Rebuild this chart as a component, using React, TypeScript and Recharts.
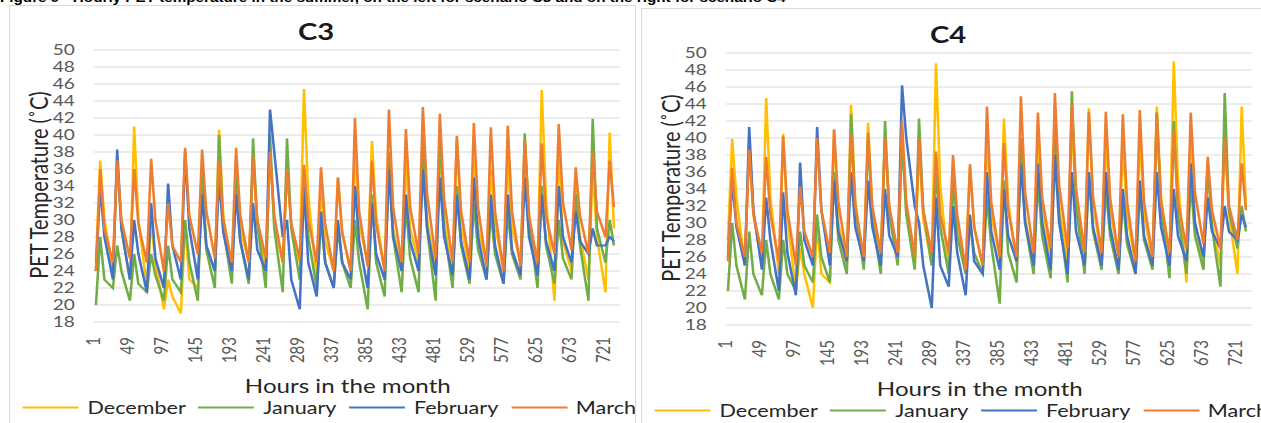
import React from 'react';
import { LineChart, Line, XAxis, YAxis, CartesianGrid } from 'recharts';

// Hourly PET temperature, one month of hours per series.
// Each series is stored as three readings per day: night low, daily peak, after-peak.
const HOURS_IN_MONTH = 744;
const SAMPLE_HOURS = [3, 9, 15];

const seriesNames = ['December', 'January', 'February', 'March'];
const seriesColors = ['#FFC000', '#70AD47', '#4472C4', '#ED7D31'];
const yTicks = [18, 20, 22, 24, 26, 28, 30, 32, 34, 36, 38, 40, 42, 44, 46, 48, 50];

// ---- scenario C3 ----
const c3December = [
  25, 37, 30, 24, 37, 29, 23, 41, 30, 22, 30, 25, 19.5, 23, 21, 19, 29.5, 23, 22, 35, 27, 24, 40.6, 30.5,
  24, 36, 29, 25, 37, 30, 24, 38, 29.5, 25, 36, 29.5, 25, 45.4, 33, 23, 34, 27.5, 24, 35, 28.5, 24, 38, 29.5,
  25, 39.3, 30.5, 24, 36, 29, 24, 37, 29, 25, 38, 30, 24, 39, 30, 23, 39.5, 29.5, 24, 37, 29, 25, 36, 29.5,
  24, 37, 29, 25, 39, 30.5, 24, 45.3, 32.5, 20.5, 38, 27.5, 24, 34, 28, 23, 36, 28, 21.5, 40.3, 29,
];
const c3January = [
  20, 28, 23, 22, 27, 24, 20.5, 26, 22.5, 21.5, 26, 23.5, 20.5, 27, 23, 21.5, 30, 25, 20.5, 36, 26.5, 22, 40, 29,
  22.5, 35, 27.5, 22.5, 39.6, 29.5, 22, 40, 29, 21.5, 39.6, 29, 23, 36, 28, 22, 30, 25, 22, 29, 25, 22, 30, 25,
  19.5, 33, 25, 21, 38, 28, 21.5, 32, 25.5, 21.5, 40, 29, 20.5, 41, 29, 22, 34, 27, 22.5, 32, 26.5, 23, 31, 26,
  22.5, 31, 26, 23, 40.2, 30, 22, 34, 27, 22.5, 30, 25.5, 23, 33, 27, 20.5, 41.9, 29, 25, 30, 27,
];
const c3February = [
  24, 34, 28, 23, 38.3, 29, 23, 30, 26, 21.5, 32, 25.5, 22, 34.3, 27, 23, 38, 29, 23, 33, 27, 24, 35, 28.5,
  24, 33, 27.5, 23, 32, 26.5, 24, 43, 38, 28, 30, 23, 19.5, 34, 25, 21, 31, 25, 22, 30, 25, 23, 34, 27.5,
  22, 32, 26, 23, 36, 28, 24, 33, 27.5, 24, 36, 29, 23.5, 35, 28, 23.5, 33, 27.5, 23, 35, 28, 23, 33, 27,
  22.5, 33, 26.5, 23.5, 35, 28, 23.5, 33, 27.5, 24, 34, 28, 25, 31, 27.5, 26, 29, 27, 27, 28, 27.5,
];
const c3March = [
  24, 36, 29, 25, 37, 30, 25.5, 36, 29.5, 25, 37.2, 30, 24, 32, 27, 25, 38.5, 30.5, 26, 38.3, 31, 25.5, 37, 30,
  25, 38.5, 30.5, 25, 37.5, 30, 25.5, 38, 30.5, 25, 36, 29.5, 25.5, 36.5, 30, 25, 36.2, 29.5, 24, 35, 28.5, 24, 42, 31,
  24.5, 37, 29.5, 24, 43, 31.5, 25, 40.7, 31.5, 26, 43.3, 33, 25.5, 42.5, 32.5, 25, 39.9, 31, 25, 41.4, 31.5, 24.5, 40.9, 31,
  24, 41.1, 31, 24.5, 39.5, 30.5, 25, 39, 30.5, 26, 41.3, 32, 26.5, 36.2, 30.5, 26, 38, 31, 28, 37, 31.5,
];

// ---- scenario C4 ----
const c4December = [
  28, 39.9, 33, 25, 40, 31, 25, 44.7, 33, 24, 40.5, 30.5, 22, 27, 24, 20, 30, 24, 23, 41, 30, 25, 43.9, 32.5,
  25, 41.8, 31.5, 26, 40, 31.5, 25.5, 41, 31.5, 25, 39, 30.5, 25, 48.8, 34.5, 24, 36, 29, 25, 36.5, 29.5, 25, 40, 31,
  26, 42.3, 32.5, 25, 39, 30.5, 25.5, 40, 31.5, 26, 41, 32, 25.5, 42, 32, 25, 43.5, 32.5, 25.5, 40, 31.5, 26, 39, 31,
  25, 40, 31, 25.5, 43.7, 33, 26, 49, 35, 23, 41, 30, 25, 37, 30, 25, 40, 31, 24, 43.7, 32,
];
const c4January = [
  22, 30, 25, 21, 29, 24, 21.5, 28, 24, 21, 28, 24, 22, 29, 25, 23, 31, 26, 23, 36, 28, 24, 42.8, 31.5,
  24.5, 40, 30.5, 24, 42, 31, 25, 40, 31, 24.5, 42.3, 31.5, 25, 36, 29.5, 24, 35, 28.5, 24, 30, 26.5, 24, 33, 27.5,
  20.5, 35, 26.5, 23, 40, 30, 24, 35, 28.5, 23.5, 42, 31, 23, 45.5, 32, 24, 36, 29, 24.5, 34, 28.5, 24, 33, 27.5,
  24, 34, 28, 24.5, 43, 32, 23.5, 42, 31, 24, 35, 28.5, 24.5, 37, 29.5, 22.5, 45.3, 31.5, 27, 32, 29,
];
const c4February = [
  26, 35, 29.5, 25, 41.3, 31.5, 24.5, 33, 28, 22, 33.6, 26.5, 21.5, 37.1, 28, 25, 41.3, 31.5, 25, 35, 29, 25.5, 36, 29.5,
  25.5, 35, 29.5, 25, 34, 28.5, 26, 46.2, 40, 32, 30, 25, 20, 33, 25, 22.5, 32, 26.5, 21.5, 31, 25.5, 24, 36, 29,
  24.5, 34, 28.5, 25.5, 37, 30, 25, 37, 30, 24.5, 38, 30, 24, 36, 29, 25, 36, 29.5, 25, 36, 29.5, 24.5, 34, 28.5,
  24, 35, 28.5, 25, 36, 29.5, 25, 34, 28.5, 25.5, 37, 30, 26, 33, 29, 27, 32, 29, 28, 31, 29.5,
];
const c4March = [
  25.5, 36.5, 30, 26, 38.6, 31, 26.5, 37.8, 31, 25.5, 40.2, 31.5, 25, 34.3, 29, 26, 40, 31.5, 26.5, 41, 32.5, 26, 40.5, 32,
  26, 40.6, 32, 26.5, 40, 32, 26.5, 42, 32.5, 26, 40, 31.5, 26.5, 38.4, 31, 26.5, 38, 31, 24.5, 36.9, 29.5, 25, 43.7, 32.5,
  26, 39.4, 31.5, 26, 44.9, 33.5, 26.5, 43, 33, 27, 45.3, 34.5, 27, 44, 34, 26.5, 43.1, 33, 26.5, 43.1, 33, 26, 42.8, 32.5,
  25.5, 43.3, 32.5, 26, 42.8, 32.5, 26.5, 41, 32.5, 27, 43, 33.5, 27.5, 37.8, 31.5, 27, 40, 32, 28, 37, 31.5,
];

// one row per hour; hours without a reading stay null and the line is joined across them
function buildRows(series: number[][]) {
  const rows: Record<string, string | number | null>[] = [];
  for (let i = 0; i < HOURS_IN_MONTH; i++) {
    const row: Record<string, string | number | null> = { hour: String(i + 1) };
    const slot = SAMPLE_HOURS.indexOf(i % 24);
    const day = Math.floor(i / 24);
    series.forEach((values, s) => {
      row['s' + s] = slot >= 0 ? values[day * 3 + slot] : null;
    });
    rows.push(row);
  }
  return rows;
}

const c3Rows = buildRows([c3December, c3January, c3February, c3March]);
const c4Rows = buildRows([c4December, c4January, c4February, c4March]);

// the source figure is stretched sideways, so each panel is drawn narrow and scaled
const SX = 1.27;
const CHART_W = 492;
const CHART_H = 416;
const FONT = 'Lato, "Open Sans", sans-serif';

const YTick = (props: any) => (
  <text x={props.x} y={props.y} dy={5} textAnchor="end" fill="#595959" fontSize={15} fontFamily={FONT}>
    {props.payload.value}
  </text>
);

const XTick = (props: any) => {
  const ty = props.y + 15;
  return (
    <text
      x={props.x}
      y={ty}
      dy={5}
      transform={`rotate(-90 ${props.x} ${ty})`}
      textAnchor="end"
      fill="#595959"
      fontSize={15}
      fontFamily={FONT}
    >
      {props.payload.value}
    </text>
  );
};

const Panel = ({ title, rows, left, top }: { title: string; rows: any[]; left: number; top: number }) => (
  <div
    style={{
      position: 'absolute',
      left,
      top,
      width: CHART_W * SX,
      height: 440,
      border: '1px solid #d9d9d9',
      overflow: 'hidden',
      background: '#fff',
    }}
  >
    <div
      style={{
        position: 'absolute',
        left: 0,
        top: 0,
        width: CHART_W,
        height: CHART_H,
        transform: `scaleX(${SX})`,
        transformOrigin: '0 0',
        fontFamily: FONT,
      }}
    >
      <LineChart width={CHART_W} height={CHART_H} data={rows} margin={{ top: 44, right: 12, left: 6, bottom: 70 }}>
        <CartesianGrid vertical={false} stroke="#d9d9d9" strokeWidth={1.2} />
        <XAxis
          dataKey="hour"
          interval={47}
          tickLine={false}
          axisLine={false}
          tickSize={0}
          tickMargin={0}
          height={30}
          tick={<XTick />}
        />
        <YAxis
          domain={[18, 50]}
          ticks={yTicks}
          interval={0}
          width={60}
          tickLine={false}
          axisLine={false}
          tickSize={0}
          tickMargin={15}
          tick={<YTick />}
        />
        {seriesNames.map((name, s) => (
          <Line
            key={name}
            dataKey={'s' + s}
            name={name}
            stroke={seriesColors[s]}
            strokeWidth={2}
            dot={false}
            connectNulls
            type="linear"
            isAnimationActive={false}
          />
        ))}
      </LineChart>

      <div
        style={{
          position: 'absolute',
          left: 241,
          top: 25,
          transform: 'translate(-50%, -50%)',
          fontSize: 23,
          fontWeight: 700,
          color: '#1a1a1a',
          whiteSpace: 'nowrap',
        }}
      >
        {title}
      </div>

      <div
        style={{
          position: 'absolute',
          left: 22,
          top: 179,
          transform: 'translate(-50%, -50%) rotate(-90deg)',
          fontSize: 20,
          color: '#262626',
          whiteSpace: 'nowrap',
        }}
      >
        PET Temperature (˚C)
      </div>

      <div
        style={{
          position: 'absolute',
          left: 266,
          top: 379,
          transform: 'translate(-50%, -50%)',
          fontSize: 19,
          color: '#262626',
          whiteSpace: 'nowrap',
        }}
      >
        Hours in the month
      </div>

      <div
        style={{
          position: 'absolute',
          left: 10,
          top: 401,
          transform: 'translateY(-50%)',
          display: 'flex',
          alignItems: 'center',
          whiteSpace: 'nowrap',
          fontSize: 17,
          color: '#262626',
        }}
      >
        {seriesNames.map((name, s) => (
          <React.Fragment key={name}>
            <span style={{ display: 'inline-block', width: 44, height: 2, background: seriesColors[s], marginRight: 7 }} />
            <span style={{ marginRight: 10 }}>{name}</span>
          </React.Fragment>
        ))}
      </div>
    </div>
  </div>
);

export default function App() {
  return (
    <div
      style={{
        position: 'fixed',
        left: 0,
        top: 0,
        width: 1261,
        height: 423,
        overflow: 'hidden',
        background: '#fff',
      }}
    >
      <Panel title="C3" rows={c3Rows} left={9} top={5} />
      <Panel title="C4" rows={c4Rows} left={641} top={8} />
      <div
        style={{
          position: 'absolute',
          left: 0,
          top: -9,
          transform: `scaleX(${SX})`,
          transformOrigin: '0 0',
          fontFamily: '"Liberation Sans", Arial, sans-serif',
          fontWeight: 700,
          fontSize: 12,
          color: '#000',
          whiteSpace: 'nowrap',
        }}
      >
        Figure 9 - Hourly PET temperature in the summer, on the left for scenario C3 and on the right for scenario C4
      </div>
    </div>
  );
}
